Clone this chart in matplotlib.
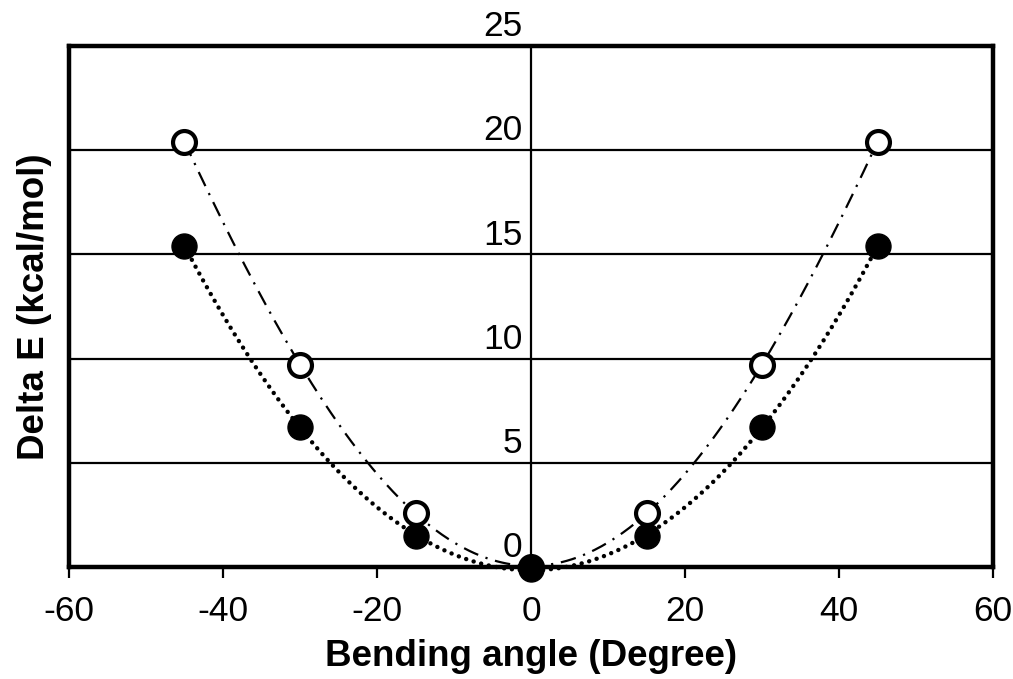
import numpy as np
import matplotlib.pyplot as plt

plt.rcParams['font.family'] = ['Liberation Sans', 'DejaVu Sans']

# bending angle (degree)
angle = [-45, -30, -15, 0, 15, 30, 45]
# Delta E (kcal/mol)
open_e = [20.4, 9.7, 2.6, 0.0, 2.6, 9.7, 20.4]
filled_e = [15.4, 6.7, 1.5, -0.1, 1.5, 6.7, 15.4]

xticks = [-60, -40, -20, 0, 20, 40, 60]
yticks = [0, 5, 10, 15, 20, 25]

fig = plt.figure(figsize=(10.13, 6.79), dpi=100)
ax = fig.add_axes([0.0681, 0.165, 0.9122, 0.7673])
ax.set_xlim(-60, 60)
ax.set_ylim(0, 25)

for s in ax.spines.values():
    s.set_linewidth(3.2)

# horizontal rules and centre line
for v in yticks[1:-1]:
    ax.axhline(v, color='black', lw=1.6, zorder=1)
ax.axvline(0, color='black', lw=1.6, zorder=1)

# trend curves through the points
xs = np.linspace(-45, 45, 300)
p_open = np.polyfit(angle, open_e, 4)
p_fill = np.polyfit(angle, filled_e, 4)
ax.plot(xs, np.polyval(p_open, xs), color='black', lw=1.6,
        dashes=[7, 3.5, 1, 3.5], zorder=2, clip_on=False)
ax.plot(xs, np.polyval(p_fill, xs), color='black', lw=3.2,
        dashes=[0.01, 1.75], dash_capstyle='round', zorder=2, clip_on=False)

ax.plot(angle, open_e, 'o', ms=16.5, mfc='white', mec='black', mew=3,
        ls='none', zorder=3, clip_on=False)
ax.plot(angle, filled_e, 'o', ms=18, mfc='black', mec='black',
        ls='none', zorder=4, clip_on=False)

ax.set_xticks(xticks)
ax.set_xticklabels([str(t) for t in xticks], fontsize=25.5)
ax.tick_params(axis='x', direction='out', length=8, width=1.6, pad=12)
ax.set_yticks([])
for v in yticks:
    ax.annotate(str(v), xy=(0, v), xytext=(-6, 2), textcoords='offset points',
                ha='right', va='bottom', fontsize=25.5, annotation_clip=False)

ax.set_xlabel('Bending angle (Degree)', fontsize=26.5, fontweight='bold', labelpad=8)
ax.set_ylabel('Delta E (kcal/mol)', fontsize=26.5, fontweight='bold', labelpad=12)

fig.savefig('out.png', dpi=100)
